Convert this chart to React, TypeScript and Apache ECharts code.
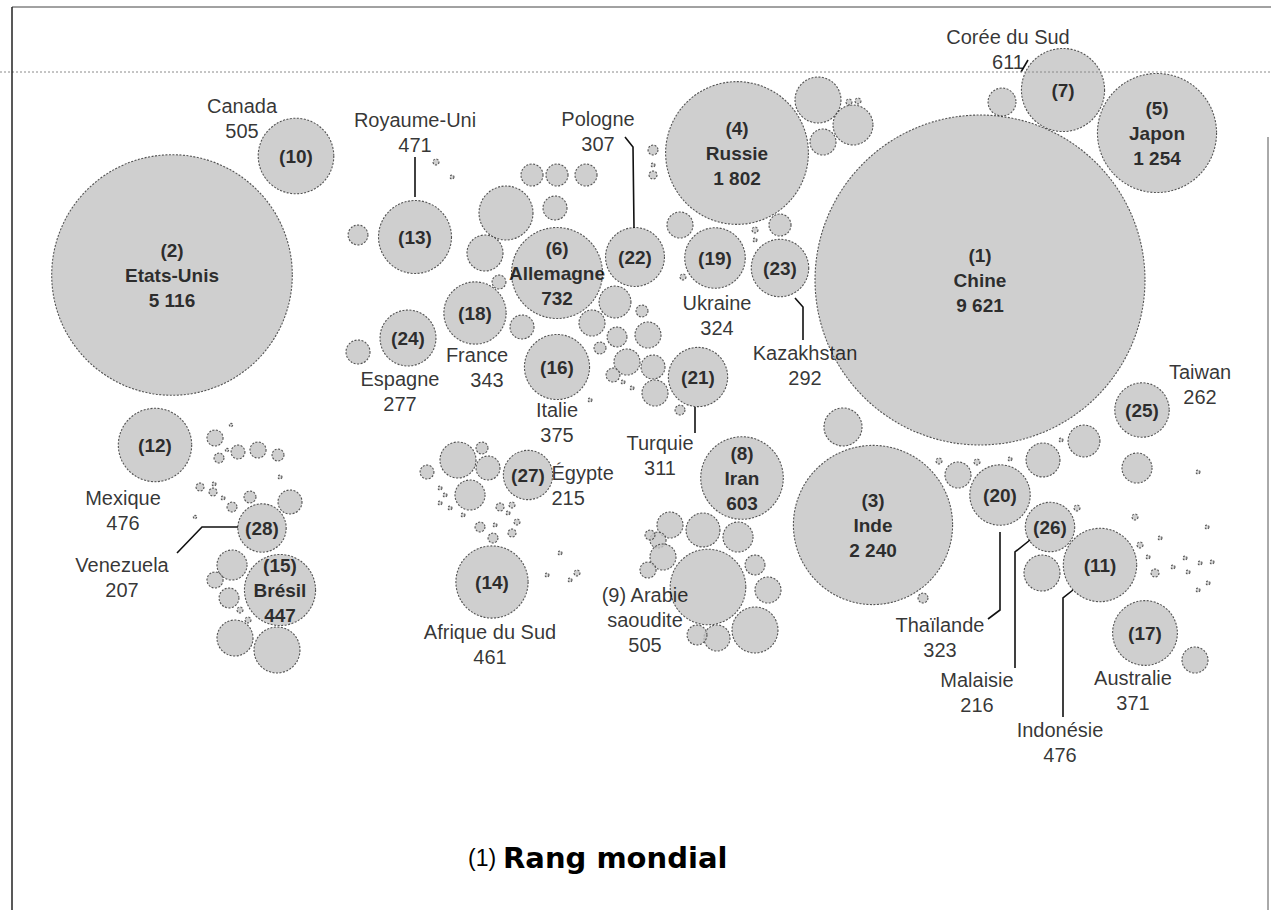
import React, { useEffect, useRef } from "react";
import * as echarts from "echarts";

// Émissions de CO2 (millions de tonnes) — pays classés
const names = ["Chine", "Etats-Unis", "Inde", "Russie", "Japon", "Allemagne", "Corée du Sud", "Iran", "Arabie saoudite", "Canada", "Indonésie", "Mexique", "Royaume-Uni", "Afrique du Sud", "Brésil", "Italie", "Australie", "France", "Ukraine", "Thaïlande", "Turquie", "Pologne", "Kazakhstan", "Espagne", "Taiwan", "Malaisie", "Égypte", "Venezuela"];
const values = [9621, 5116, 2240, 1802, 1254, 732, 611, 603, 505, 505, 476, 476, 471, 461, 447, 375, 371, 343, 324, 323, 311, 307, 292, 277, 262, 216, 215, 207];
const ranks = [1, 2, 3, 4, 5, 6, 7, 8, 9, 10, 11, 12, 13, 14, 15, 16, 17, 18, 19, 20, 21, 22, 23, 24, 25, 26, 27, 28];
// layout coordinates of each bubble (cartogram space)
const posX = [980, 172, 873, 737, 1157, 557, 1063, 742, 708, 296, 1100, 155, 415, 492, 280, 557, 1145, 475, 715, 1000, 698, 635, 780, 408, 1142, 1050, 528, 262];
const posY = [280, 275, 525, 153, 133, 273, 90, 478, 587, 156, 565, 445, 237, 582, 590, 367, 633, 313, 258, 495, 377, 257, 268, 338, 410, 527, 475, 528];
const fullInner = ["Chine", "Etats-Unis", "Inde", "Russie", "Japon", "Allemagne", "Iran", "Brésil"];
const noInner = ["Arabie saoudite"];

// other (unlabelled) countries: layout x, y and estimated emissions
const otherX = [358, 436, 452, 532, 557, 586, 506, 555, 485, 499, 358, 522, 592, 615, 642, 600, 617, 627, 648, 653, 655, 613, 623, 632, 590, 653, 653, 653, 818, 853, 823, 849, 858, 680, 780, 755, 755, 683, 680,
  1002, 843, 923, 958, 939, 977, 1010, 1043, 1084, 1061, 1137, 1077, 1042, 1195, 1135, 1140, 1148, 1155, 1160, 1173, 1185, 1188, 1200, 1212, 1198, 1208, 1207, 1198,
  290, 250, 232, 223, 213, 214, 200, 195, 215, 231, 219, 227, 238, 258, 278, 280, 232, 215, 229, 240, 248, 235, 277,
  458, 488, 470, 427, 482, 440, 445, 440, 450, 463, 500, 512, 508, 517, 512, 480, 495, 493, 560, 547, 570, 577,
  703, 738, 670, 658, 650, 663, 648, 755, 768, 755, 717, 697];
const otherY = [235, 162, 177, 175, 175, 175, 213, 208, 253, 282, 352, 327, 323, 302, 311, 348, 337, 362, 335, 367, 393, 375, 382, 388, 400, 150, 165, 175, 100, 125, 142, 102, 101, 225, 225, 230, 240, 277, 410,
  102, 427, 598, 475, 461, 462, 459, 460, 441, 440, 468, 508, 573, 660, 517, 545, 557, 573, 538, 567, 558, 572, 563, 562, 590, 583, 527, 472,
  502, 497, 507, 498, 492, 484, 487, 517, 438, 425, 458, 450, 452, 450, 455, 477, 565, 580, 598, 610, 620, 638, 650,
  460, 468, 495, 472, 448, 488, 495, 503, 508, 515, 507, 505, 513, 522, 533, 527, 525, 538, 553, 575, 580, 573,
  530, 537, 525, 540, 535, 557, 570, 565, 590, 630, 638, 635];
const otherV = [35, 3.2, 1.4, 43, 43, 43, 258, 51, 115, 17, 51, 51, 60, 90, 12.7, 12.7, 35, 60, 60, 51, 60, 17, 1.4, 1.4, 1.4, 8.8, 1.4, 5.7, 187, 141, 60, 3.2, 3.2, 60, 43, 3.2, 1.4, 3.2, 8.8,
  69, 128, 8.8, 60, 3.2, 3.2, 1.4, 102, 90, 1.4, 80, 3.2, 115, 60, 3.2, 3.2, 1.4, 5.7, 1.4, 1.4, 1.4, 1.4, 1.4, 1.4, 1.4, 1.4, 1.4, 1.4,
  51, 12.7, 8.8, 1.4, 5.7, 1.4, 5.7, 1, 23, 1, 8.8, 1, 17, 23, 12.7, 1.4, 80, 23, 35, 3.2, 3.2, 115, 187,
  115, 51, 80, 17, 12.7, 1.4, 1.4, 1.4, 1.4, 1.4, 5.7, 3.2, 1.4, 3.2, 5.7, 8.8, 1.4, 8.8, 1.4, 1.4, 1.4, 3.2,
  102, 80, 60, 23, 8.8, 60, 23, 35, 60, 187, 60, 35];

// outside labels: country, anchor, alignment
const outerCountry = ["Canada", "Royaume-Uni", "Pologne", "Corée du Sud", "Ukraine", "Kazakhstan", "Taiwan", "Espagne", "Italie", "Turquie", "Égypte", "Arabie saoudite", "Afrique du Sud", "Mexique", "Venezuela", "Thaïlande", "Malaisie", "Indonésie", "Australie"];
const outerX = [242, 415, 598, 1008, 717, 805, 1200, 400, 557, 660, 552, 645, 490, 123, 122, 940, 977, 1060, 1133];
const outerY = [118, 132, 131, 49, 315, 365, 384, 391, 422, 455, 486, 620, 644, 510, 577, 637, 692, 742, 690];
const outerAlign = ["center", "center", "center", "center", "center", "center", "center", "center", "center", "center", "left", "center", "center", "center", "center", "center", "center", "center", "center"];

// leader lines
const leaders = [
  [[415, 157], [415, 197]],
  [[625, 137], [633, 147], [634, 228]],
  [[795, 298], [803, 307], [803, 340]],
  [[695, 407], [695, 433]],
  [[238, 527], [202, 527], [177, 553]],
  [[1000, 532], [1000, 610], [988, 619]],
  [[1030, 540], [1015, 552], [1015, 668]],
  [[1073, 590], [1063, 598], [1063, 717]],
  [[1021, 72], [1028, 60]],
];

const K = 1.682; // radius per sqrt(Mt)
const fmt = (v: number) => (v >= 1000 ? String(v).replace(/(\d)(\d{3})$/, "$1 $2") : String(v));
const FONT = "'Liberation Sans', Arial, Helvetica, sans-serif";

export default function App() {
  const ref = useRef<HTMLDivElement>(null);
  useEffect(() => {
    const chart = echarts.init(ref.current!, null, { renderer: "svg" });
    const idx = (n: string) => names.indexOf(n);

    const countryData = names.map((n, i) => {
      let text = "";
      if (fullInner.includes(n)) text = `(${ranks[i]})\n${n}\n${fmt(values[i])}`;
      else if (!noInner.includes(n)) text = `(${ranks[i]})`;
      return {
        name: n,
        value: [posX[i], posY[i], values[i]],
        label: { show: text !== "", formatter: text },
      };
    });

    const outerData: any[] = outerCountry.map((c, j) => {
      const i = idx(c);
      let text = `${c}\n${fmt(values[i])}`;
      if (c === "Arabie saoudite") text = `(${ranks[i]}) Arabie\nsaoudite\n${fmt(values[i])}`;
      const left = outerAlign[j] === "left";
      return {
        value: [outerX[j], outerY[j]],
        label: { formatter: text, align: outerAlign[j], position: left ? [0, 0] : "inside" },
      };
    });
    const fr = idx("France");
    outerData.push({ value: [477, 355], label: { formatter: "France" } });
    outerData.push({ value: [487, 380], label: { formatter: fmt(values[fr]) } });

    const bubbleStyle = {
      color: "#c3c3c3",
      borderColor: "#2e2e2e",
      borderWidth: 1.1,
      borderType: [2, 1.5],
    };

    chart.setOption({
      animation: false,
      backgroundColor: "#ffffff",
      grid: { left: 0, right: 0, top: 0, bottom: 0 },
      xAxis: { type: "value", min: 0, max: 1271, show: false },
      yAxis: { type: "value", min: 0, max: 910, inverse: true, show: false },
      series: [
        {
          type: "scatter",
          name: "autres",
          silent: true,
          z: 2,
          symbolSize: (v: number[]) => Math.max(2, 2 * K * Math.sqrt(v[2])),
          itemStyle: bubbleStyle,
          data: otherX.map((x, i) => [x, otherY[i], otherV[i]]),
        },
        {
          type: "scatter",
          name: "pays",
          silent: true,
          z: 3,
          symbolSize: (v: number[]) => 2 * K * Math.sqrt(v[2]),
          itemStyle: bubbleStyle,
          label: {
            position: "inside",
            color: "#000",
            fontFamily: FONT,
            fontWeight: "bold",
            fontSize: 19,
            lineHeight: 25,
          },
          data: countryData,
        },
        {
          type: "scatter",
          name: "étiquettes",
          silent: true,
          z: 6,
          symbolSize: 1,
          itemStyle: { color: "rgba(0,0,0,0)" },
          label: {
            show: true,
            position: "inside",
            color: "#000",
            fontFamily: FONT,
            fontSize: 20,
            lineHeight: 25,
            verticalAlign: "middle",
          },
          data: outerData,
        },
        {
          type: "lines",
          coordinateSystem: "cartesian2d",
          polyline: true,
          silent: true,
          z: 5,
          lineStyle: { color: "#111", width: 1.6, opacity: 1 },
          data: leaders.map((c) => ({ coords: c })),
        },
      ],
      graphic: [
        { type: "line", z: 10, silent: true, shape: { x1: 12, y1: 7, x2: 1271, y2: 7 }, style: { stroke: "#444", lineWidth: 1 } },
        { type: "line", z: 10, silent: true, shape: { x1: 0, y1: 72, x2: 1271, y2: 72 }, style: { stroke: "#8a8a8a", lineWidth: 1, lineDash: [2, 2] } },
        { type: "line", z: 10, silent: true, shape: { x1: 12, y1: 7, x2: 12, y2: 910 }, style: { stroke: "#222", lineWidth: 1.5 } },
        { type: "line", z: 10, silent: true, shape: { x1: 1268, y1: 137, x2: 1268, y2: 910 }, style: { stroke: "#555", lineWidth: 1 } },
        { type: "text", z: 10, silent: true, x: 468, y: 858, style: { text: "(1)", font: `23px ${FONT}`, fill: "#000", verticalAlign: "middle" } },
        { type: "text", z: 10, silent: true, x: 503, y: 858, style: { text: "Rang mondial", font: `bold 29px 'DejaVu Sans', sans-serif`, fill: "#000", verticalAlign: "middle" } },
      ],
    });
    return () => chart.dispose();
  }, []);
  return <div ref={ref} style={{ position: "absolute", left: 0, top: 0, width: 1271, height: 910 }} />;
}
